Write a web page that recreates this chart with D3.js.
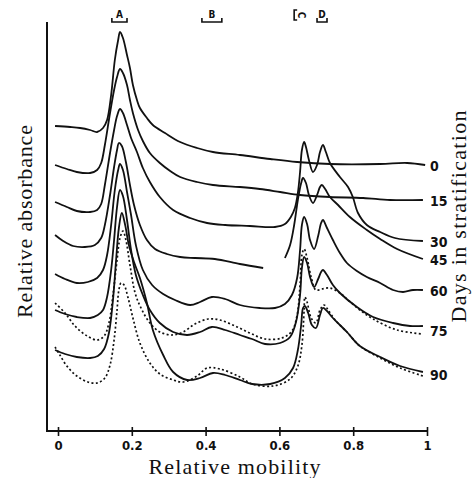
<!DOCTYPE html>
<html>
<head>
<meta charset="utf-8">
<script src="https://cdn.jsdelivr.net/npm/d3@7"></script>
<style>
  html, body { margin: 0; padding: 0; background: #fff; }
  svg { display: block; }
</style>
</head>
<body>
<svg id="chart" width="472" height="478"></svg>
<script>
// ---------- data (mobility, relative absorbance in arbitrary units) ----------
const dayLabels = ["0", "15", "30", "45", "60", "75", "90"];
const xTickValues = [0, 0.2, 0.4, 0.6, 0.8, 1];
const xTickLabels = ["0", "0.2", "0.4", "0.6", "0.8", "1"];
const markerLabels = ["A", "B", "C", "D"];
const markerFrom = [0.146, 0.390, 0.640, 0.702];
const markerTo = [0.187, 0.444, 0.660, 0.729];

const day0 = [[-0.008,30.5],[0.033,30.4],[0.060,30.3],[0.087,30.1],[0.106,29.9],[0.122,30.3],[0.133,31.1],[0.144,33.6],[0.154,37.1],[0.163,39.1],[0.168,39.9],[0.176,39.3],[0.187,37.6],[0.195,36.3],[0.203,34.6],[0.214,33.1],[0.222,32.3],[0.241,31.3],[0.257,30.6],[0.290,29.8],[0.331,28.9],[0.377,28.3],[0.420,27.9],[0.493,27.6],[0.575,27.2],[0.648,26.9],[0.737,26.7],[0.873,26.7],[0.946,26.8],[0.995,26.6]];

const day15 = [[-0.008,26.6],[0.024,26.2],[0.051,25.9],[0.087,25.8],[0.106,26.1],[0.117,26.8],[0.127,28.6],[0.141,31.8],[0.152,34.1],[0.160,35.4],[0.168,36.2],[0.176,35.8],[0.187,34.6],[0.195,33.1],[0.203,31.8],[0.217,30.1],[0.230,29.0],[0.249,27.8],[0.276,26.8],[0.304,26.0],[0.331,25.4],[0.377,24.9],[0.420,24.6],[0.493,24.4],[0.547,24.2],[0.602,23.9],[0.656,23.6],[0.737,23.4],[0.827,23.3],[0.900,23.1],[0.989,23.1]];

const day30 = [[-0.008,22.9],[0.024,22.4],[0.051,22.0],[0.087,21.9],[0.106,22.1],[0.117,22.7],[0.127,24.6],[0.141,27.8],[0.152,30.1],[0.160,31.5],[0.168,32.2],[0.176,31.8],[0.187,30.6],[0.198,29.3],[0.214,27.9],[0.230,26.3],[0.249,24.9],[0.276,23.4],[0.312,22.1],[0.358,21.3],[0.404,20.8],[0.453,20.6],[0.520,20.5],[0.588,20.4],[0.615,20.7],[0.631,21.4],[0.642,22.3],[0.650,23.8],[0.656,25.9],[0.661,28.1],[0.667,28.9],[0.672,28.4],[0.680,27.1],[0.691,25.9],[0.702,26.6],[0.710,27.9],[0.718,28.6],[0.726,27.9],[0.737,26.8],[0.764,25.4],[0.786,24.4],[0.799,23.4],[0.813,21.8],[0.837,20.6],[0.873,19.9],[0.913,19.3],[0.989,19.0]];

const day45 = [[-0.008,19.6],[0.014,19.0],[0.041,18.5],[0.073,18.4],[0.100,18.6],[0.117,19.3],[0.127,20.6],[0.141,23.6],[0.152,26.4],[0.160,28.1],[0.165,28.8],[0.173,28.5],[0.184,26.9],[0.195,24.6],[0.206,22.6],[0.222,20.6],[0.241,19.1],[0.263,18.2],[0.295,17.7],[0.331,17.4],[0.371,17.3],[0.425,17.2],[0.493,16.7],[0.556,16.3],null,[0.615,17.3],[0.629,18.6],[0.640,20.6],[0.650,23.1],[0.659,24.8],[0.664,25.3],[0.672,24.8],[0.680,23.6],[0.691,22.8],[0.702,23.6],[0.710,24.4],[0.715,24.6],[0.724,24.2],[0.737,23.4],[0.759,22.6],[0.791,21.4],[0.837,20.1],[0.873,19.2],[0.919,18.2],[0.989,17.2]];

const day60 = [[-0.008,15.7],[0.019,15.2],[0.051,14.8],[0.081,14.9],[0.106,15.3],[0.122,16.1],[0.133,17.6],[0.144,20.6],[0.154,24.1],[0.163,26.1],[0.168,26.7],[0.176,26.1],[0.187,23.9],[0.198,21.6],[0.211,18.6],[0.230,16.1],[0.255,14.6],[0.285,13.7],[0.317,13.1],[0.358,12.6],[0.385,12.9],[0.417,13.4],[0.453,13.2],[0.493,12.6],[0.547,12.3],[0.588,12.3],[0.615,12.7],[0.634,13.6],[0.648,15.3],[0.656,18.1],[0.661,20.6],[0.667,21.4],[0.675,20.7],[0.683,19.1],[0.694,18.2],[0.705,19.5],[0.713,20.8],[0.718,21.1],[0.729,20.3],[0.745,19.1],[0.764,17.8],[0.783,16.8],[0.810,16.0],[0.837,15.4],[0.873,14.8],[0.908,14.1],[0.935,13.9],[0.962,14.1],[0.989,14.1]];

const day75 = [[-0.008,12.1],[0.019,11.7],[0.051,11.4],[0.087,11.3],[0.108,11.6],[0.122,12.1],[0.133,13.4],[0.144,16.1],[0.152,19.1],[0.160,22.4],[0.168,24.1],[0.176,23.5],[0.187,21.1],[0.198,18.1],[0.211,15.6],[0.230,13.6],[0.249,12.1],[0.276,10.8],[0.312,9.9],[0.350,9.6],[0.385,9.9],[0.417,10.4],[0.453,10.1],[0.493,9.6],[0.526,9.2],[0.561,8.7],[0.602,8.8],[0.629,9.4],[0.645,10.9],[0.656,13.6],[0.661,16.3],[0.667,17.4],[0.675,16.8],[0.683,15.4],[0.694,14.4],[0.705,15.2],[0.713,15.9],[0.718,16.1],[0.729,15.6],[0.745,14.6],[0.764,13.8],[0.810,12.4],[0.854,11.4],[0.908,10.8],[0.954,10.5],[0.989,10.5]];

const day75dotted = [[-0.008,12.8],[0.019,11.8],[0.046,10.5],[0.079,9.5],[0.106,9.1],[0.125,9.5],[0.138,10.8],[0.149,13.6],[0.160,17.1],[0.168,19.3],[0.176,20.0],[0.184,19.1],[0.195,16.6],[0.209,13.8],[0.225,12.3],[0.249,10.8],[0.276,9.9],[0.309,9.6],[0.339,9.9],[0.371,10.7],[0.407,11.2],[0.439,11.1],[0.480,10.5],[0.520,9.8],[0.561,9.2],[0.607,9.3],[0.634,10.0],[0.648,11.6],[0.656,14.6],[0.661,17.6],[0.667,18.2],[0.675,17.3],[0.686,15.4],[0.699,14.1],[0.715,14.2],[0.737,14.3],[0.764,13.8],[0.783,13.2],[0.818,12.1],[0.854,11.2],[0.919,10.1],[0.989,9.7]];

const day90 = [[-0.008,8.1],[0.019,7.7],[0.051,7.4],[0.087,7.3],[0.108,7.5],[0.125,8.2],[0.138,9.8],[0.149,13.1],[0.157,16.9],[0.165,20.3],[0.173,21.8],[0.182,20.6],[0.192,18.6],[0.206,16.9],[0.222,15.3],[0.241,12.8],[0.257,10.1],[0.285,7.6],[0.312,5.9],[0.350,5.1],[0.385,5.3],[0.420,5.8],[0.453,5.6],[0.493,5.1],[0.526,4.7],[0.575,4.7],[0.615,5.3],[0.637,6.3],[0.650,8.1],[0.659,10.6],[0.664,12.3],[0.669,12.5],[0.678,11.8],[0.688,10.6],[0.699,10.3],[0.710,11.6],[0.718,12.3],[0.729,12.0],[0.745,11.3],[0.783,9.9],[0.818,8.5],[0.873,7.4],[0.927,6.5],[0.989,5.9]];

const day90dotted = [[-0.008,8.4],[0.005,7.6],[0.024,6.5],[0.051,5.5],[0.081,4.9],[0.106,4.8],[0.127,5.3],[0.141,6.6],[0.152,9.1],[0.160,12.1],[0.165,14.1],[0.171,14.8],[0.179,14.6],[0.190,13.3],[0.203,11.3],[0.222,8.8],[0.249,6.8],[0.276,5.7],[0.312,5.1],[0.339,4.9],[0.377,5.5],[0.404,6.3],[0.439,6.2],[0.493,5.4],[0.526,4.7],[0.583,4.5],[0.629,5.2],[0.650,6.5],[0.661,8.6],[0.667,12.1],[0.669,13.4],[0.675,12.9],[0.686,11.3],[0.699,10.8],[0.710,12.1],[0.721,12.6],[0.732,12.1],[0.751,11.1],[0.783,9.9],[0.818,8.5],[0.873,7.3],[0.927,6.3],[0.989,5.5]];

const solidSeries = [day0, day15, day30, day45, day60, day75, day90];
const dottedSeries = [day75dotted, day90dotted];
const dottedDays = ["75", "90"];

// ---------- drawing ----------
const svg = d3.select("#chart");
const x = d3.scaleLinear().domain([0, 1]).range([58, 427]);
const y = d3.scaleLinear().domain([0, 40.9]).range([431, 22]);

const line = d3.line()
  .defined(d => d !== null)
  .x(d => x(d[0]))
  .y(d => y(d[1]))
  .curve(d3.curveCatmullRom.alpha(0.5));

const ink = "#111";

// y axis line (no ticks)
svg.append("line")
  .attr("x1", 47).attr("x2", 47)
  .attr("y1", y(40.9)).attr("y2", y(0) + 1)
  .attr("stroke", ink).attr("stroke-width", 2);

// x axis
svg.append("line")
  .attr("x1", 47).attr("x2", x(1) + 1)
  .attr("y1", y(0)).attr("y2", y(0))
  .attr("stroke", ink).attr("stroke-width", 2);

const xAxis = d3.axisBottom(x)
  .tickValues(xTickValues)
  .tickFormat((d, i) => xTickLabels[i])
  .tickSizeInner(5).tickSizeOuter(0).tickPadding(5);

const gx = svg.append("g")
  .attr("transform", `translate(0,${y(0)})`)
  .call(xAxis);
gx.select(".domain").remove();
gx.selectAll(".tick line")
  .attr("y1", -4).attr("y2", 5)
  .attr("stroke", ink).attr("stroke-width", 1.6);
gx.selectAll(".tick text")
  .attr("fill", ink)
  .style("font-family", "'Liberation Sans Narrow', 'DejaVu Sans Condensed', sans-serif")
  .style("font-weight", "bold")
  .style("font-size", "13px");

// traces
svg.append("g").selectAll("path.solid")
  .data(solidSeries)
  .join("path")
  .attr("class", "solid")
  .attr("d", line)
  .attr("fill", "none")
  .attr("stroke", ink)
  .attr("stroke-width", 1.8)
  .attr("stroke-linejoin", "round");

svg.append("g").selectAll("path.dotted")
  .data(dottedSeries)
  .join("path")
  .attr("class", "dotted")
  .attr("d", line)
  .attr("fill", "none")
  .attr("stroke", ink)
  .attr("stroke-width", 1.7)
  .attr("stroke-dasharray", "2,2.4");

// day labels at the right end of each trace
const lastDefined = s => s.filter(d => d !== null).slice(-1)[0];
svg.append("g").selectAll("text.day")
  .data(dayLabels)
  .join("text")
  .attr("class", "day")
  .attr("x", 430)
  .attr("y", (d, i) => {
    const ends = [y(lastDefined(solidSeries[i])[1])];
    const k = dottedDays.indexOf(d);
    if (k >= 0) ends.push(y(lastDefined(dottedSeries[k])[1]));
    return d3.mean(ends) + 2;
  })
  .attr("dominant-baseline", "middle")
  .attr("fill", ink)
  .style("font-family", "'Liberation Sans Narrow', 'DejaVu Sans Condensed', sans-serif")
  .style("font-weight", "bold")
  .style("font-size", "14px")
  .text(d => d);

// band markers A-D at the top
const mk = svg.append("g");
markerLabels.forEach((lab, i) => {
  const x0 = x(markerFrom[i]), x1 = x(markerTo[i]);
  if (lab === "C") {
    mk.append("path")
      .attr("d", `M${x0 + 3},10 H${x0} V20 H${x0 + 3}`)
      .attr("fill", "none").attr("stroke", ink).attr("stroke-width", 1.6);
    mk.append("text")
      .attr("transform", `translate(${x1 - 1},15) rotate(90)`)
      .attr("text-anchor", "middle")
      .attr("dominant-baseline", "middle")
      .attr("fill", ink)
      .style("font-family", "'Liberation Sans Narrow', 'DejaVu Sans Condensed', sans-serif")
      .style("font-weight", "bold")
      .style("font-size", "10px")
      .text(lab);
  } else {
    mk.append("path")
      .attr("d", `M${x0},18 V22 H${x1} V18`)
      .attr("fill", "none").attr("stroke", ink).attr("stroke-width", 1.6);
    mk.append("text")
      .attr("x", (x0 + x1) / 2)
      .attr("y", 18)
      .attr("text-anchor", "middle")
      .attr("fill", ink)
      .style("font-family", "'Liberation Sans Narrow', 'DejaVu Sans Condensed', sans-serif")
      .style("font-weight", "bold")
      .style("font-size", "10px")
      .text(lab);
  }
});

// axis titles
const serif = "'Liberation Serif', 'DejaVu Serif', serif";
svg.append("text")
  .attr("x", 234.5).attr("y", 474)
  .attr("text-anchor", "middle")
  .attr("textLength", 172).attr("lengthAdjust", "spacing")
  .attr("fill", ink)
  .style("font-family", serif).style("font-size", "22px")
  .text("Relative mobility");

svg.append("text")
  .attr("transform", "translate(32,221.5) rotate(-90)")
  .attr("text-anchor", "middle")
  .attr("textLength", 193).attr("lengthAdjust", "spacing")
  .attr("fill", ink)
  .style("font-family", serif).style("font-size", "22px")
  .text("Relative absorbance");

svg.append("text")
  .attr("transform", "translate(466,216.5) rotate(-90)")
  .attr("text-anchor", "middle")
  .attr("textLength", 212).attr("lengthAdjust", "spacing")
  .attr("fill", ink)
  .style("font-family", serif).style("font-size", "22px")
  .text("Days in stratification");
</script>
</body>
</html>
